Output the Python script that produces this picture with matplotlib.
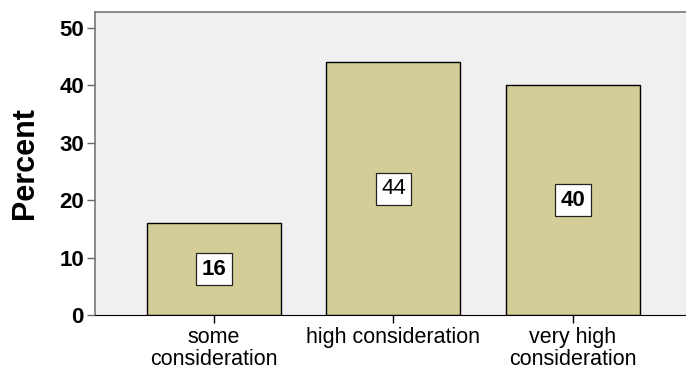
import matplotlib.pyplot as plt
import numpy as np

plt.rcParams['font.family'] = ['Liberation Sans', 'DejaVu Sans']

categories = ["some\nconsideration", "high consideration", "very high\nconsideration"]
percents = [16, 44, 40]
label_bold = [True, False, True]

fig = plt.figure(figsize=(6.86, 3.73), dpi=100)
ax = fig.add_axes([0.1385, 0.1555, 0.8615, 0.8125])
ax.set_facecolor("#F0F0F0")

x = np.arange(len(categories))
bars = ax.bar(x, percents, width=0.747, color="#D3CE97", edgecolor="black", linewidth=1.0, zorder=2)

for xi, val, bold in zip(x, percents, label_bold):
    ax.text(xi, val / 2, str(val), ha="center", va="center", fontsize=16,
            fontweight="bold" if bold else "normal", zorder=3,
            bbox=dict(boxstyle="square,pad=0.25", facecolor="white", edgecolor="#222222", linewidth=0.9))

ax.set_xlim(-0.663, 2.63)
ax.set_ylim(0, 52.8)
ax.set_yticks([0, 10, 20, 30, 40, 50])
ax.set_xticks(x)
ax.set_xticklabels(categories, fontsize=15.5, linespacing=1.05)
ax.tick_params(axis="y", labelsize=16, length=6, color="#666666", width=1, pad=2)
ax.tick_params(axis="x", length=6, color="black", width=1, pad=3)
for lbl in ax.get_yticklabels():
    lbl.set_fontweight("bold")

ax.set_ylabel("Percent", fontsize=22, fontweight="bold", labelpad=14)

ax.spines["right"].set_visible(False)
ax.spines["top"].set_color("#777777")
ax.spines["left"].set_color("#777777")
ax.spines["bottom"].set_color("black")
ax.spines["top"].set_linewidth(1.2)
ax.spines["left"].set_linewidth(1.2)

fig.savefig("out.png", dpi=100)
